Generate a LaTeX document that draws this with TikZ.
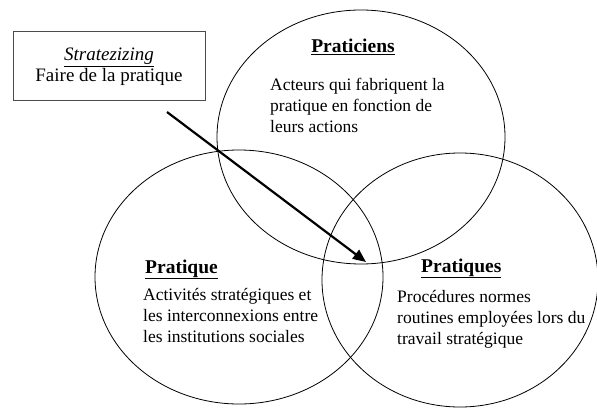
\documentclass[tikz,border=0pt]{standalone}
\usepackage{fontspec}
\setmainfont{Liberation Serif}
\usetikzlibrary{shapes.geometric,arrows.meta}

\tikzset{
    cercle/.style={draw, ellipse, line width=0.8pt, inner sep=0pt},
    cadre/.style={draw=black!70, line width=1pt, align=center, minimum width=192pt,
        minimum height=69pt, font=\fontsize{19}{21}\selectfont},
    titre/.style={font=\fontsize{19.5}{22}\selectfont\bfseries, inner sep=0pt},
    texte/.style={font=\fontsize{17.5}{21}\selectfont, align=left, anchor=north west, inner sep=0pt},
    fleche/.style={line width=2.2pt, -{Triangle[length=13pt,width=11pt]}}
}

\begin{document}
\begin{tikzpicture}[x=1pt,y=-1pt]
    \useasboundingbox (0,0) rectangle (597,409);

    \node[cercle, minimum width=288pt, minimum height=254pt] (haut) at (361,137) {};
    \node[cercle, minimum width=288pt, minimum height=254pt] (gauche) at (239,277) {};
    \node[cercle, minimum width=276pt, minimum height=254pt] (droite) at (460,280) {};

    \node[cadre] (strat) at (109,66.5) {\underline{\textit{Stratezizing}}\\Faire de la pratique};

    \node[titre, anchor=base] (t1) at (353,53) {\underline{Praticiens}};
    \node[texte] (x1) at (270,77.7) {Acteurs qui fabriquent la\\pratique en fonction de\\leurs actions};

    \node[titre, anchor=base west] (t2) at (145,273) {\underline{Pratique}};
    \node[texte] (x2) at (143,287.7) {Activités stratégiques et\\les interconnexions entre\\les institutions sociales};

    \node[titre, anchor=base west] (t3) at (421,272) {\underline{Pratiques}};
    \node[texte] (x3) at (397,289.7) {Procédures normes\\routines employées lors du\\travail stratégique};

    \coordinate (depart) at (167,112);
    \coordinate (pointe) at (366,262);
    \draw[fleche] (depart) -- (pointe);
\end{tikzpicture}
\end{document}
